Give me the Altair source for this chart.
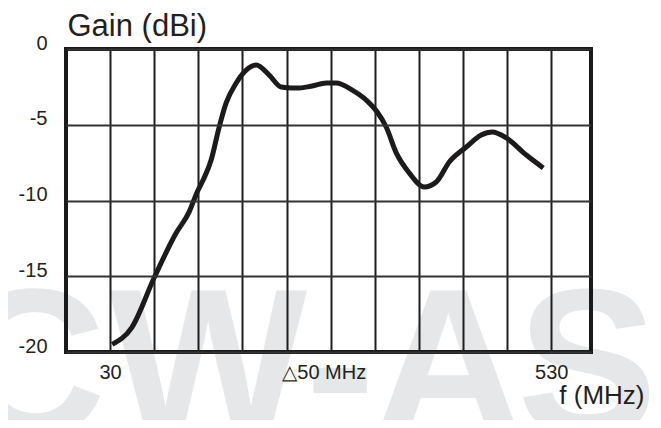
import altair as alt
import pandas as pd

# ---- data ----
FREQ_MHZ = [32.3, 54.9, 79.9, 104.8, 119.6, 128.6, 135.4, 144.5, 153.6, 161.5,
            172.9, 184.2, 195.5, 210.3, 223.9, 236.4, 244.3, 259.0, 274.9, 286.2,
            304.4, 320.3, 332.7, 342.9, 354.3, 369.0, 386.0, 399.6, 414.4, 433.6,
            450.6, 463.1, 479.0, 501.7, 520.9]
GAIN_DBI = [-19.5, -18.35, -15.1, -12.15, -10.75, -9.45, -8.65, -7.33, -5.15, -3.56,
            -2.24, -1.39, -1.06, -1.72, -2.51, -2.57, -2.57, -2.44, -2.24, -2.24,
            -2.71, -3.37, -4.16, -5.15, -6.86, -8.18, -9.11, -8.78, -7.46, -6.47,
            -5.68, -5.48, -5.87, -7.00, -7.85]

X_GRID = [30, 80, 130, 180, 230, 280, 330, 380, 430, 480, 530]
X_LABELS = {30: "30", 280: "\u25b350 MHz", 530: "530"}
Y_TICKS = [0, -5, -10, -15, -20]

WM_LETTERS = ["C", "W", "-", "A", "S"]
WM_POS = [-60.7, 141.1, 290.8, 413.2, 570.8]

FONT = "Liberation Sans"
INK = "#231f20"
W, H = 525, 303

curve = pd.DataFrame({"f": FREQ_MHZ, "g": GAIN_DBI})
wm = pd.DataFrame({"ch": WM_LETTERS, "f": WM_POS})

label_expr = " : ".join(
    f"datum.value == {k} ? '{v}'" for k, v in X_LABELS.items()
) + " : ''"

x_scale = alt.Scale(domain=[-20, 575], nice=False, zero=False)
y_scale = alt.Scale(domain=[-20, 0], nice=False, zero=False)

x_axis = alt.Axis(
    values=X_GRID, labelExpr=label_expr, grid=True, gridColor="#1e1e1e", gridWidth=2,
    ticks=False, domain=False, labelFont=FONT, labelFontSize=20, labelColor=INK,
    labelBaseline="alphabetic", labelPadding=26, labelFlush=False, labelOverlap=False,
    labelOffset={"condition": {"test": "datum.value === 280", "value": -7}, "value": 0},
    title="f (MHz)", titleFont=FONT, titleFontSize=26, titleFontWeight="normal",
    titleColor=INK, titleX=578, titleY=51, titleAlign="right", titleBaseline="alphabetic",
    zindex=1,
)
y_axis = alt.Axis(
    values=Y_TICKS, labelExpr="'' + datum.value", grid=True, gridColor="#333333",
    gridWidth=2, ticks=False, domain=False, labelFont=FONT, labelFontSize=20,
    labelColor=INK, labelPadding=19, labelOffset=-6, labelFlush=False, labelOverlap=False,
    title="Gain (dBi)", titleFont=FONT, titleFontSize=31, titleFontWeight="normal",
    titleColor=INK, titleAngle=0, titleX=1, titleY=-14, titleAlign="left",
    titleBaseline="alphabetic", zindex=1,
)

watermark = alt.Chart(wm).mark_text(
    font=FONT, fontWeight="bold", fontSize=210, color="#e6e7e8",
    align="center", baseline="alphabetic",
).encode(
    x=alt.X("f:Q", scale=x_scale, axis=x_axis),
    y=alt.value(386),
    text="ch:N",
)

line = alt.Chart(curve).mark_line(
    color="#1c1a1a", strokeWidth=5, interpolate="monotone", strokeCap="butt",
).encode(
    x=alt.X("f:Q", scale=x_scale, axis=x_axis),
    y=alt.Y("g:Q", scale=y_scale, axis=y_axis),
)

frame = alt.Chart(pd.DataFrame({"k": [0]})).mark_rect(
    filled=False, stroke="#1a1a1a", strokeWidth=4,
).encode(
    x=alt.value(0), x2=alt.value(W), y=alt.value(0), y2=alt.value(H),
)

chart = alt.layer(watermark, line, frame).properties(
    width=W, height=H,
    padding={"left": 58, "top": 41, "right": 62, "bottom": 68},
    autosize=alt.AutoSizeParams(type="none"),
    background="white",
).configure_view(strokeWidth=0)

chart.save("out.html", embed_options={"renderer": "svg", "actions": False})
